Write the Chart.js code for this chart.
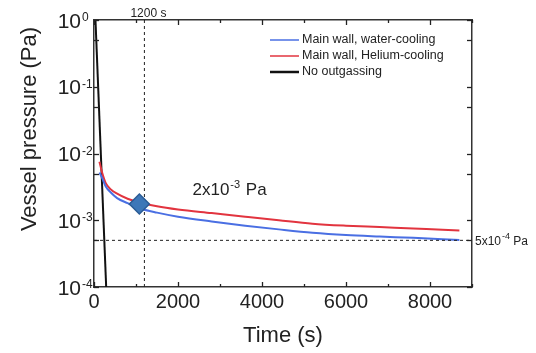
<!DOCTYPE html>
<html>
<head>
<meta charset="utf-8">
<script src="https://cdn.jsdelivr.net/npm/chart.js@4.4.1/dist/chart.umd.min.js"></script>
<style>
html, body { margin: 0; padding: 0; background: #fff; }
</style>
</head>
<body>
<canvas id="pressureChart" width="536" height="353"></canvas>
<script>
// data (time in s, pressure in Pa)
const timeWater = [130, 200, 280, 400, 550, 800, 1100, 1500, 2000, 2800, 3600, 4400, 5200, 6000, 6800, 7600, 8300, 8700];
const pWater = [5.2e-3, 4.2e-3, 3.2e-3, 2.6e-3, 2.15e-3, 1.8e-3, 1.5e-3, 1.3e-3, 1.13e-3, 9.6e-4, 8.3e-4, 7.3e-4, 6.5e-4, 6.0e-4, 5.7e-4, 5.45e-4, 5.2e-4, 5.05e-4];
const timeHelium = [130, 200, 280, 400, 550, 800, 1100, 1500, 2000, 2800, 3600, 4400, 5200, 6000, 6800, 7600, 8300, 8700];
const pHelium = [7.5e-3, 5.0e-3, 3.6e-3, 2.9e-3, 2.5e-3, 2.1e-3, 1.85e-3, 1.62e-3, 1.45e-3, 1.28e-3, 1.13e-3, 1.0e-3, 8.9e-4, 8.3e-4, 7.9e-4, 7.5e-4, 7.2e-4, 7.0e-4];
const timeNoOut = [35, 290];
const pNoOut = [1, 1e-4];
const markerTime = [1080];
const markerP = [1.75e-3];
const guideTime = 1200;
const guideP = 5e-4;

const xMin = 0, xMax = 9000;
const yMin = 1e-4, yMax = 1;
const xTicks = [0, 1000, 2000, 3000, 4000, 5000, 6000, 7000, 8000, 9000];
const xTickLabels = ['0', '', '2000', '', '4000', '', '6000', '', '8000', ''];
const yTicks = [1e-4, 5e-4, 1e-3, 5e-3, 1e-2, 5e-2, 1e-1, 5e-1, 1];
const yDecades = [1e-4, 1e-3, 1e-2, 1e-1, 1];
const yExponents = ['-4', '-3', '-2', '-1', '0'];

const FONT = "'Liberation Sans', Arial, sans-serif";
const AXIS = '#333';
const TEXT = '#222';

function xy(xs, ys) {
    return xs.map((x, i) => ({x: x, y: ys[i]}));
}

const gridOpts = { drawOnChartArea: false, drawTicks: false };
const borderOpts = { display: true, color: AXIS, width: 1.5 };

function strokeSeg(c, x1, y1, x2, y2) {
    c.beginPath();
    c.moveTo(x1, y1);
    c.lineTo(x2, y2);
    c.stroke();
}

// inward tick marks on all four sides, placed by the chart's own scales
const tickPlugin = {
    id: 'tickPlugin',
    afterDraw(chart) {
        const c = chart.ctx;
        const xs = chart.scales.x;
        const ys = chart.scales.y;
        const left = xs.getPixelForValue(xMin);
        const right = xs.getPixelForValue(xMax);
        const top = ys.getPixelForValue(yMax);
        const bottom = ys.getPixelForValue(yMin);
        c.save();
        c.setLineDash([]);
        c.strokeStyle = '#222';
        c.lineWidth = 1.3;
        xTicks.forEach(v => {
            const px = Math.round(xs.getPixelForValue(v)) + 0.5;
            const len = v % 2000 === 0 ? 5 : 3;
            strokeSeg(c, px, bottom, px, bottom - len);
            strokeSeg(c, px, top, px, top + len);
        });
        yTicks.forEach(v => {
            const py = Math.round(ys.getPixelForValue(v)) + 0.5;
            strokeSeg(c, left, py, left + 5, py);
            strokeSeg(c, right, py, right - 5, py);
        });
        c.restore();
    }
};

// texts with superscripts, legend, axis title
const textPlugin = {
    id: 'textPlugin',
    afterDraw(chart) {
        const c = chart.ctx;
        const xs = chart.scales.x;
        const ys = chart.scales.y;
        c.save();
        c.fillStyle = TEXT;

        yDecades.forEach((v, i) => {
            const py = ys.getPixelForValue(v);
            c.font = '21px ' + FONT;
            c.textAlign = 'right';
            c.textBaseline = 'alphabetic';
            c.fillText('10', 81, py + 7.5);
            c.font = '12px ' + FONT;
            c.textAlign = 'left';
            c.fillText(yExponents[i], 82, py + 1);
        });

        // y title
        c.save();
        c.translate(36, 129);
        c.rotate(-Math.PI / 2);
        c.font = '22px ' + FONT;
        c.textAlign = 'center';
        c.textBaseline = 'alphabetic';
        c.fillText('Vessel pressure (Pa)', 0, 0);
        c.restore();

        // 1200 s
        c.font = '12px ' + FONT;
        c.textAlign = 'center';
        c.fillText('1200 s', xs.getPixelForValue(guideTime) + 4, 16.5);

        // 5x10^-4 Pa
        let px = 475;
        let py = ys.getPixelForValue(guideP) + 4.5;
        c.textAlign = 'left';
        c.font = '12px ' + FONT;
        c.fillText('5x10', px, py);
        px += c.measureText('5x10').width + 1;
        c.font = '9px ' + FONT;
        c.fillText('-4', px, py - 5.5);
        px += c.measureText('-4').width;
        c.font = '12px ' + FONT;
        c.fillText(' Pa', px, py);

        // 2x10^-3 Pa
        px = 192.5;
        py = 195;
        c.font = '17px ' + FONT;
        c.fillText('2x10', px, py);
        px += c.measureText('2x10').width + 1;
        c.font = '11px ' + FONT;
        c.fillText('-3', px, py - 7);
        px += c.measureText('-3').width + 1;
        c.font = '17px ' + FONT;
        c.fillText(' Pa', px, py);

        // legend
        c.font = '12.5px ' + FONT;
        c.textBaseline = 'middle';
        chart.data.datasets.slice(0, 3).forEach((ds, i) => {
            const ly = 40 + i * 16;
            c.strokeStyle = ds.borderColor;
            c.lineWidth = i === 2 ? 2.5 : 1.5;
            strokeSeg(c, 270, ly, 299, ly);
            c.fillText(ds.label, 302, ly);
        });
        c.restore();
    }
};

const ctx = document.getElementById('pressureChart').getContext('2d');
new Chart(ctx, {
    type: 'line',
    data: {
        datasets: [{
            label: 'Main wall, water-cooling',
            data: xy(timeWater, pWater),
            borderColor: '#4a6fe3',
            borderWidth: 2,
            pointRadius: 0,
            cubicInterpolationMode: 'monotone',
            order: 2
        }, {
            label: 'Main wall, Helium-cooling',
            data: xy(timeHelium, pHelium),
            borderColor: '#e2343f',
            borderWidth: 2,
            pointRadius: 0,
            cubicInterpolationMode: 'monotone',
            order: 3
        }, {
            label: 'No outgassing',
            data: xy(timeNoOut, pNoOut),
            borderColor: '#111',
            borderWidth: 2,
            pointRadius: 0,
            order: 4
        }, {
            label: 'marker',
            data: xy(markerTime, markerP),
            showLine: false,
            pointStyle: 'rectRot',
            pointRadius: 10,
            backgroundColor: '#3d77b8',
            borderColor: '#2b5c96',
            borderWidth: 1.5,
            order: 0
        }, {
            label: 'guide time',
            data: [{x: guideTime, y: yMin}, {x: guideTime, y: yMax}],
            borderColor: '#222',
            borderWidth: 1,
            borderDash: [3, 3],
            pointRadius: 0,
            order: 5
        }, {
            label: 'guide pressure',
            data: [{x: xMin, y: guideP}, {x: xMax, y: guideP}],
            borderColor: '#222',
            borderWidth: 1,
            borderDash: [3, 3],
            pointRadius: 0,
            order: 1
        }]
    },
    options: {
        responsive: false,
        animation: false,
        devicePixelRatio: 1,
        layout: { padding: { top: 20, right: 64, bottom: 0, left: 0 } },
        plugins: { legend: { display: false }, tooltip: { enabled: false } },
        scales: {
            x: {
                type: 'linear', position: 'bottom', min: xMin, max: xMax,
                afterBuildTicks: s => { s.ticks = xTicks.map(v => ({value: v})); },
                afterFit: s => { s.height = 66; },
                ticks: {
                    autoSkip: false, maxRotation: 0, padding: 3, color: TEXT,
                    font: { family: FONT, size: 20 },
                    callback: v => xTickLabels[xTicks.indexOf(v)]
                },
                grid: gridOpts,
                border: borderOpts,
                title: { display: true, text: 'Time (s)', color: TEXT, font: { family: FONT, size: 22 }, padding: { top: 0, bottom: 4 } }
            },
            x2: {
                type: 'linear', position: 'top', min: xMin, max: xMax,
                afterBuildTicks: s => { s.ticks = xTicks.map(v => ({value: v})); },
                afterFit: s => { s.height = 0; },
                ticks: { display: false },
                grid: gridOpts,
                border: borderOpts
            },
            y: {
                type: 'logarithmic', position: 'left', min: yMin, max: yMax,
                afterBuildTicks: s => { s.ticks = yTicks.map(v => ({value: v})); },
                afterFit: s => { s.width = 94; },
                ticks: { display: false },
                grid: gridOpts,
                border: borderOpts
            },
            y2: {
                type: 'logarithmic', position: 'right', min: yMin, max: yMax,
                afterBuildTicks: s => { s.ticks = yTicks.map(v => ({value: v})); },
                afterFit: s => { s.width = 0; },
                ticks: { display: false },
                grid: gridOpts,
                border: borderOpts
            }
        }
    },
    plugins: [tickPlugin, textPlugin]
});
</script>
</body>
</html>
